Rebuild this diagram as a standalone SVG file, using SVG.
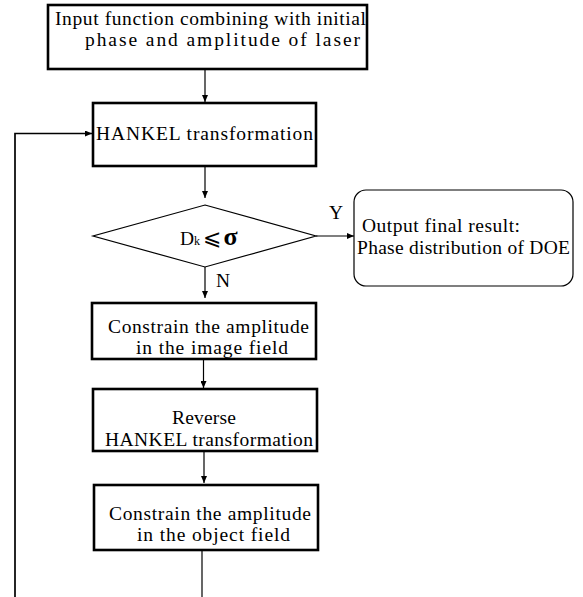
<svg xmlns="http://www.w3.org/2000/svg" width="583" height="597" viewBox="0 0 583 597">
<style>
.box{fill:#fff;stroke:#000;stroke-width:2.6}
.thin{fill:none;stroke:#000;stroke-width:1.2}
.t{font-family:"Liberation Serif","Times New Roman",serif;font-size:19.5px;fill:#000}
.c{fill:none;stroke:#000;stroke-width:1.2}
</style>
<defs>
<marker id="ah" markerUnits="userSpaceOnUse" markerWidth="7" markerHeight="6" refX="7" refY="3" orient="auto">
<path d="M0,0 L7,3 L0,6 z" fill="#000"/>
</marker>
</defs>
<rect width="583" height="597" fill="#fff"/>
<g id="connectors">
<line class="c" x1="205" y1="69" x2="205" y2="102" marker-end="url(#ah)"/>
<line class="c" x1="205" y1="166" x2="205" y2="198" marker-end="url(#ah)"/>
<line class="c" x1="316" y1="236" x2="354" y2="236" marker-end="url(#ah)"/>
<line class="c" x1="205" y1="267" x2="205" y2="298" marker-end="url(#ah)"/>
<line class="c" x1="203.5" y1="359" x2="203.5" y2="388" marker-end="url(#ah)"/>
<line class="c" x1="204" y1="451" x2="204" y2="483" marker-end="url(#ah)"/>
<line class="c" x1="202" y1="550" x2="202" y2="597"/>
<polyline points="15,597 15,133.5 92,133.5" fill="none" stroke="#000" stroke-width="1.7" marker-end="url(#ah)"/>
<text class="t" x="329" y="219">Y</text>
<text class="t" x="216" y="287">N</text>
</g>
<g id="input">
<rect class="box" x="48" y="5" width="319" height="64"/>
<text class="t" x="55" y="25" textLength="311" lengthAdjust="spacing">Input function combining with initial</text>
<text class="t" x="85" y="46" textLength="275" lengthAdjust="spacing">phase and amplitude of laser</text>
</g>
<g id="hankel">
<rect class="box" x="93" y="103" width="223" height="63"/>
<text class="t" x="96" y="140" textLength="217" lengthAdjust="spacing">HANKEL transformation</text>
</g>
<g id="decision">
<polygon class="thin" points="205,205 316,236 205,267 93,236"/>
<text class="t" x="180" y="245">D<tspan font-size="12">k</tspan><tspan font-family="'DejaVu Sans',sans-serif" font-size="22" dx="3">⩽</tspan><tspan font-size="26" font-weight="bold" dx="2">σ</tspan></text>
</g>
<g id="output">
<rect class="thin" x="354" y="190" width="219" height="96" rx="12" ry="12"/>
<text class="t" x="362" y="231.5" textLength="158" lengthAdjust="spacing">Output final result:</text>
<text class="t" x="357" y="254" textLength="213" lengthAdjust="spacing">Phase distribution of DOE</text>
</g>
<g id="constrain-image">
<rect class="box" x="92" y="303" width="224" height="56"/>
<text class="t" x="108" y="332.5" textLength="201" lengthAdjust="spacing">Constrain the amplitude</text>
<text class="t" x="136" y="353.5" textLength="152" lengthAdjust="spacing">in the image field</text>
</g>
<g id="reverse">
<rect class="box" x="93" y="389" width="224" height="62"/>
<text class="t" x="172" y="424" textLength="64" lengthAdjust="spacing">Reverse</text>
<text class="t" x="105" y="446" textLength="208" lengthAdjust="spacing">HANKEL transformation</text>
</g>
<g id="constrain-object">
<rect class="box" x="94" y="485" width="224" height="65"/>
<text class="t" x="109" y="520" textLength="202" lengthAdjust="spacing">Constrain the amplitude</text>
<text class="t" x="137" y="541" textLength="153" lengthAdjust="spacing">in the object field</text>
</g>
</svg>
